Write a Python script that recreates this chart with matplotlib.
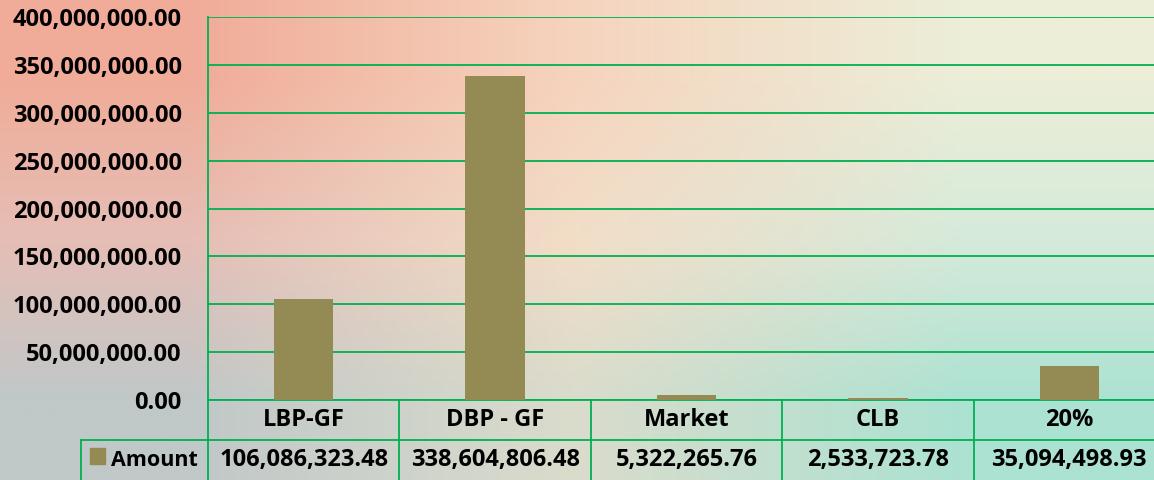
"""
    Bar chart of amounts per fund with an Excel style data table below it
"""

import numpy as np
import matplotlib.pyplot as plt
from matplotlib.patches import Rectangle
from matplotlib.ticker import FuncFormatter

# data
categories = ['LBP-GF', 'DBP - GF', 'Market', 'CLB', '20%']
amounts = [106086323.48, 338604806.48, 5322265.76, 2533723.78, 35094498.93]
series_name = 'Amount'
y_ticks = [0, 50000000, 100000000, 150000000, 200000000,
           250000000, 300000000, 350000000, 400000000]

plt.rcParams['font.family'] = ['Open Sans', 'DejaVu Sans']
plt.rcParams['font.weight'] = 'bold'

W, H = 1154, 480
green = '#00B050'
olive = '#948A54'
fs = 17

fig = plt.figure(figsize=(W / 100, H / 100), dpi=100)

# textured background approximated by a colour gradient
bg = fig.add_axes([0, 0, 1, 1], zorder=0)
colors = np.array([
    [[240, 172, 152], [246, 212, 190], [236, 238, 216]],
    [[230, 190, 182], [242, 222, 200], [214, 234, 218]],
    [[192, 200, 200], [218, 220, 204], [172, 226, 210]],
]) / 255
bg.imshow(colors, extent=[0, 1, 0, 1], interpolation='bilinear', aspect='auto')
bg.axis('off')

# plot area (runs a bit past the right edge, like the original)
left_px, right_px, top_px, zero_px = 208, 1165, 17.3, 400
ax = fig.add_axes([left_px / W, 1 - zero_px / H,
                   (right_px - left_px) / W, (zero_px - top_px) / H], zorder=1)
ax.patch.set_alpha(0)

x = np.arange(len(categories))
ax.bar(x, amounts, width=0.31, color=olive, zorder=3)
ax.set_xlim(-0.5, len(categories) - 0.5)
ax.set_ylim(0, 400000000)
ax.set_yticks(y_ticks)
ax.yaxis.set_major_formatter(FuncFormatter(lambda v, p: f'{v:,.2f}'))
ax.set_xticks([])
ax.yaxis.grid(True, color=green, lw=1.3)
ax.set_axisbelow(True)
ax.tick_params(axis='y', length=0, pad=19, labelsize=fs)
for lab in ax.get_yticklabels():
    lab.set_fontweight('bold')
for s in ['top', 'right']:
    ax.spines[s].set_visible(False)
for s in ['left', 'bottom']:
    ax.spines[s].set_color(green)
    ax.spines[s].set_linewidth(1.3)

# data table under the axis
ah = zero_px - top_px
px_unit = (right_px - left_px) / len(categories)
r1 = -40 / ah
r2 = -84 / ah
legend_left = -0.5 - (left_px - 81) / px_unit
trans = ax.get_xaxis_transform()
line_kw = dict(transform=trans, clip_on=False, color=green, lw=1.3)

for i in range(len(categories) + 1):
    ax.plot([i - 0.5, i - 0.5], [0, r2], **line_kw)
ax.plot([legend_left, len(categories)], [r1, r1], **line_kw)
ax.plot([legend_left, legend_left], [r1, r2], **line_kw)

for i, (cat, val) in enumerate(zip(categories, amounts)):
    ax.text(i, r1 / 2, cat, transform=trans, ha='center', va='center',
            fontsize=fs, fontweight='bold')
    ax.text(i, -60 / ah, f'{val:,.2f}', transform=trans, ha='center',
            va='center', fontsize=fs, fontweight='bold')

fig.patches.append(Rectangle((90 / W, 1 - 464 / H), 15 / W, 16 / H,
                             transform=fig.transFigure, color=olive, zorder=2))
fig.text(111 / W, 1 - 460 / H, series_name, ha='left', va='center',
         fontsize=15.5, fontweight='bold')

fig.savefig('out.png', dpi=100)
